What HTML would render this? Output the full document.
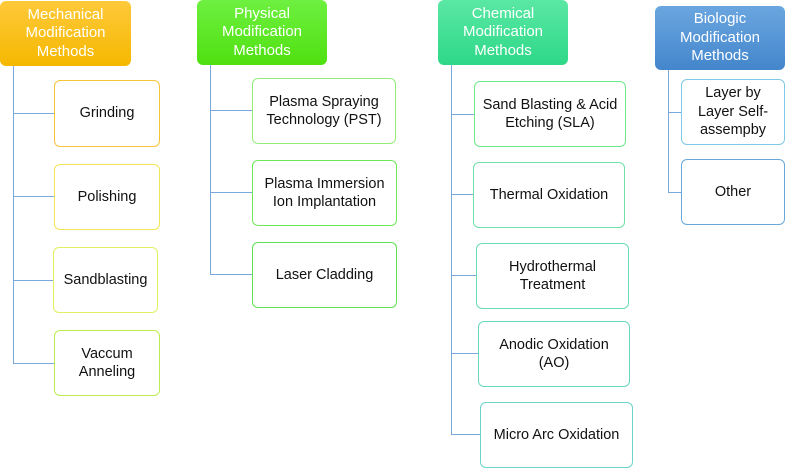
<!DOCTYPE html>
<html><head><meta charset="utf-8"><style>
body{margin:0;width:787px;height:468px;background:#fff;position:relative;overflow:hidden;font-family:"Liberation Sans",sans-serif}
.b{position:absolute;box-sizing:border-box;border:1.5px solid;border-radius:6px;display:flex;align-items:center;justify-content:center;text-align:center;font-size:14.5px;line-height:18.5px;color:#111;background:#fff}
.h{position:absolute;box-sizing:border-box;border-radius:6px;display:flex;align-items:center;justify-content:center;text-align:center;font-size:15px;line-height:18.5px;color:#fff}
.l{position:absolute;background:#7aa7dc}
</style></head><body>
<div class="l" style="left:13px;top:66px;width:1px;height:297px"></div>
<div class="l" style="left:13px;top:113px;width:41px;height:1px"></div>
<div class="l" style="left:13px;top:196px;width:41px;height:1px"></div>
<div class="l" style="left:13px;top:280px;width:40px;height:1px"></div>
<div class="l" style="left:13px;top:363px;width:41px;height:1px"></div>

<div class="l" style="left:210px;top:65px;width:1px;height:209px"></div>
<div class="l" style="left:210px;top:110px;width:42px;height:1px"></div>
<div class="l" style="left:210px;top:192px;width:42px;height:1px"></div>
<div class="l" style="left:210px;top:274px;width:42px;height:1px"></div>

<div class="l" style="left:451px;top:65px;width:1px;height:369px"></div>
<div class="l" style="left:451px;top:114px;width:23px;height:1px"></div>
<div class="l" style="left:451px;top:194px;width:22px;height:1px"></div>
<div class="l" style="left:451px;top:275px;width:25px;height:1px"></div>
<div class="l" style="left:451px;top:353px;width:27px;height:1px"></div>
<div class="l" style="left:451px;top:434px;width:29px;height:1px"></div>

<div class="l" style="left:668px;top:70px;width:1px;height:123px"></div>
<div class="l" style="left:668px;top:112px;width:13px;height:1px"></div>
<div class="l" style="left:668px;top:192px;width:13px;height:1px"></div>

<div class="h" style="left:0;top:1px;width:131px;height:65px;background:linear-gradient(#ffc93a,#f5b800)">Mechanical<br>Modification<br>Methods</div>
<div class="h" style="left:197px;top:0;width:130px;height:65px;background:linear-gradient(#6ef040,#4fe010)">Physical<br>Modification<br>Methods</div>
<div class="h" style="left:438px;top:0;width:130px;height:65px;background:linear-gradient(#5ae8a4,#2ed888)">Chemical<br>Modification<br>Methods</div>
<div class="h" style="left:655px;top:6px;width:130px;height:64px;background:linear-gradient(#6aa6e0,#4486cc)">Biologic<br>Modification<br>Methods</div>

<div class="b" style="left:54px;top:80px;width:106px;height:67px;border-color:#f8c43a">Grinding</div>
<div class="b" style="left:54px;top:164px;width:106px;height:66px;border-color:#f2e558">Polishing</div>
<div class="b" style="left:53px;top:247px;width:105px;height:66px;border-color:#e0f060">Sandblasting</div>
<div class="b" style="left:54px;top:330px;width:106px;height:66px;border-color:#bdec50">Vaccum<br>Anneling</div>

<div class="b" style="left:252px;top:78px;width:144px;height:66px;border-color:#92ec78">Plasma Spraying<br>Technology (PST)</div>
<div class="b" style="left:252px;top:160px;width:145px;height:66px;border-color:#6ee858">Plasma Immersion<br>Ion Implantation</div>
<div class="b" style="left:252px;top:242px;width:145px;height:66px;border-color:#5ee050">Laser Cladding</div>

<div class="b" style="left:474px;top:81px;width:152px;height:66px;border-color:#6ee88c">Sand Blasting &amp; Acid<br>Etching (SLA)</div>
<div class="b" style="left:473px;top:162px;width:152px;height:66px;border-color:#6ee0a8">Thermal Oxidation</div>
<div class="b" style="left:476px;top:243px;width:153px;height:66px;border-color:#68dcb4">Hydrothermal<br>Treatment</div>
<div class="b" style="left:478px;top:321px;width:152px;height:66px;border-color:#68d8c0">Anodic Oxidation<br>(AO)</div>
<div class="b" style="left:480px;top:402px;width:153px;height:66px;border-color:#6cd4cc">Micro Arc Oxidation</div>

<div class="b" style="left:681px;top:79px;width:104px;height:66px;border-color:#80c8e8">Layer by<br>Layer Self-<br>assempby</div>
<div class="b" style="left:681px;top:159px;width:104px;height:66px;border-color:#6aa8dc">Other</div>
</body></html>
